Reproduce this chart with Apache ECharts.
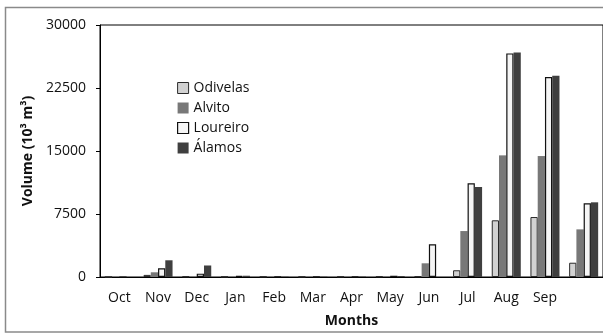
<!DOCTYPE html>
<html>
<head>
<meta charset="utf-8">
<script src="https://cdn.jsdelivr.net/npm/echarts@6/dist/echarts.min.js"></script>
<style>
html,body{margin:0;padding:0;background:#fff;}
#c{width:603px;height:334px;}
</style>
</head>
<body>
<div id="c"></div>
<script>
const months = ['Oct','Nov','Dec','Jan','Feb','Mar','Apr','May','Jun','Jul','Aug','Sep',''];
const odivelas = [0, 250, 60, 30, 40, 30, 40, 60, 60, 800, 6750, 7140, 1700];
const alvito   = [0, 560, 60, 30, 40, 30, 40, 100, 1630, 5470, 14480, 14400, 5670];
const loureiro = [0, 1030, 400, 130, 40, 40, 50, 150, 3890, 11150, 26620, 23800, 8770];
const alamos   = [0, 1990, 1370, 150, 40, 40, 50, 120, 0, 10710, 26740, 23950, 8890];
const yTicks = [0, 7500, 15000, 22500, 30000];

const FONT = '"Open Sans", "Noto Sans", sans-serif';
const chart = echarts.init(document.getElementById('c'), null, {renderer: 'canvas'});

const styles = {
  Odivelas: {color: '#d2d2d2', borderColor: '#2a2a2a', borderWidth: 1},
  Alvito:   {color: '#787878', borderColor: '#787878', borderWidth: 0},
  Loureiro: {color: '#f5f5f5', borderColor: '#111111', borderWidth: 1.2},
  'Álamos': {color: '#3f3f3f', borderColor: '#3f3f3f', borderWidth: 0}
};
const seriesData = [['Odivelas', odivelas], ['Alvito', alvito], ['Loureiro', loureiro], ['Álamos', alamos]];

chart.setOption({
  animation: false,
  backgroundColor: '#fff',
  textStyle: {fontFamily: FONT},
  graphic: [{
    type: 'rect', silent: true, z: -1,
    shape: {x: 5.5, y: 7.5, width: 700, height: 324.5},
    style: {fill: null, stroke: '#8a8a8a', lineWidth: 1.5}
  }],
  grid: {
    left: 100, top: 25, width: 506, height: 252,
    show: true, borderColor: '#000', borderWidth: 1, backgroundColor: 'transparent'
  },
  legend: {
    orient: 'vertical', left: 172, top: 76,
    itemWidth: 11, itemHeight: 11, itemGap: 6,
    textStyle: {fontFamily: FONT, fontSize: 14, color: '#111'},
    data: seriesData.map(s => ({name: s[0], icon: 'rect', itemStyle: styles[s[0]]}))
  },
  xAxis: {
    type: 'category', data: months,
    name: 'Months', nameLocation: 'middle', nameGap: 37,
    nameTextStyle: {fontFamily: FONT, fontSize: 14, fontWeight: 'bold', color: '#111'},
    axisLine: {lineStyle: {color: '#000', width: 1}},
    axisTick: {show: false},
    axisLabel: {fontFamily: FONT, fontSize: 14, color: '#111', margin: 14, interval: 0}
  },
  yAxis: {
    type: 'value', min: 0, max: 30000, interval: 7500,
    name: 'Volume (10³ m³)', nameLocation: 'middle', nameGap: 61,
    nameTextStyle: {fontFamily: FONT, fontSize: 14, fontWeight: 'bold', color: '#111'},
    axisLine: {show: true, lineStyle: {color: '#000', width: 1}},
    axisTick: {show: true, length: 4, lineStyle: {color: '#000'}},
    splitLine: {show: false},
    axisLabel: {fontFamily: FONT, fontSize: 14, color: '#111', margin: 14,
      formatter: v => yTicks.includes(v) ? String(v) : ''}
  },
  series: seriesData.map(s => ({
    name: s[0], type: 'bar', data: s[1],
    barGap: '0%', barCategoryGap: '25%',
    itemStyle: styles[s[0]]
  }))
});
</script>
</body>
</html>
